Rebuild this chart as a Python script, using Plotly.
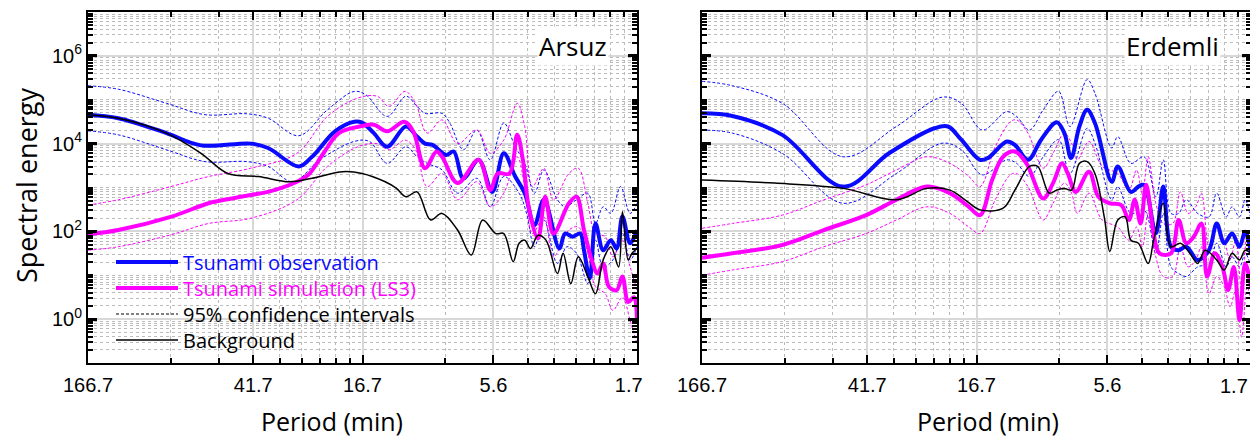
import plotly.graph_objects as go

# ---------------- data (frequency in mHz, spectral energy as log10) ----------------
period_ticks_f = [0.1, 0.4, 1, 3, 10]
period_ticks_txt = ["166.7", "41.7", "16.7", "5.6", "1.7"]
energy_ticks = [1e0, 1e2, 1e4, 1e6]
energy_ticks_txt = ["10<sup>0</sup>", "10<sup>2</sup>", "10<sup>4</sup>", "10<sup>6</sup>"]
energy_odd_ticks = [1e1, 1e3, 1e5]

# --- Arsuz ---
arsuz_obs_f = [0.1, 0.129, 0.193, 0.258, 0.392, 0.453, 0.586, 0.655, 0.794, 0.933,
               0.996, 1.10, 1.23, 1.44, 1.58, 1.69, 1.80, 2.02, 2.15, 2.33,
               2.65, 2.97, 3.27, 3.60, 3.90, 4.23, 4.58, 5.21, 5.47, 5.83,
               6.21, 6.41, 6.73, 7.06, 7.53, 8.03, 8.43, 8.85, 9.44, 10.0]
arsuz_obs_log = [4.66, 4.58, 4.24, 3.96, 4.0, 3.9, 3.48, 3.7, 4.28, 4.5,
                 4.48, 4.24, 3.93, 4.39, 4.16, 4.0, 3.97, 3.74, 3.82, 3.21,
                 3.63, 2.9, 3.78, 3.25, 2.87, 2.14, 2.72, 1.61, 1.95, 1.88,
                 1.95, 1.57, 0.93, 2.18, 1.57, 1.8, 1.61, 2.34, 1.73, 2.03]

arsuz_sim_f = [0.1, 0.129, 0.2, 0.275, 0.334, 0.392, 0.453, 0.577, 0.635, 0.721,
               0.820, 0.996, 1.10, 1.23, 1.42, 1.53, 1.69, 1.86, 1.95, 2.22,
               2.65, 2.92, 3.11, 3.43, 3.66, 3.84, 4.03, 4.36, 4.63, 4.96,
               5.65, 6.02, 6.41, 6.84, 7.18, 7.53, 7.90, 8.43, 8.85, 9.29,
               9.75, 10.0]
arsuz_sim_log = [1.93, 2.03, 2.33, 2.64, 2.75, 2.83, 2.9, 3.13, 3.29, 3.78,
                 4.24, 4.4, 4.43, 4.28, 4.5, 4.28, 3.44, 3.82, 3.7, 3.1,
                 3.63, 2.94, 3.32, 3.32, 4.2, 3.63, 2.56, 1.84, 2.79, 1.95,
                 2.64, 2.79, 2.03, 1.35, 1.04, 1.27, 0.74, 0.66, 0.97, 0.39,
                 0.5, -0.1]

arsuz_bg_f = [0.1, 0.129, 0.193, 0.258, 0.323, 0.418, 0.541, 0.655, 0.847, 0.996,
              1.21, 1.33, 1.44, 1.58, 1.77, 1.95, 2.22, 2.49, 2.74, 3.06,
              3.27, 3.54, 3.72, 3.90, 4.09, 4.36, 4.66, 5.13, 5.38, 5.74,
              6.11, 6.62, 7.06, 7.53, 8.03, 8.57, 8.85, 9.29, 9.59, 10.0]
arsuz_bg_log = [4.66, 4.58, 4.24, 3.78, 3.32, 3.25, 3.13, 3.21, 3.36, 3.32,
                3.13, 2.98, 2.79, 2.9, 2.26, 2.41, 2.03, 1.46, 2.26, 1.95,
                1.95, 1.31, 1.73, 1.8, 1.61, 1.91, 1.8, 1.04, 1.5, 0.81,
                1.42, 0.97, 0.58, 1.35, 1.65, 1.19, 2.45, 1.35, 1.5, 1.61]

arsuz_obs_hi_f = [0.1, 0.129, 0.193, 0.267, 0.379, 0.453, 0.586, 0.745, 0.933, 1.03,
                  1.23, 1.44, 1.58, 1.69, 1.95, 2.08, 2.33, 2.61, 2.92, 3.27,
                  3.60, 3.90, 4.23, 4.58, 5.13, 5.47, 6.02, 6.62, 7.06, 7.53,
                  8.03, 8.71, 9.44, 10.0]
arsuz_obs_hi_log = [5.32, 5.24, 4.92, 4.66, 4.68, 4.58, 4.18, 4.77, 5.19, 5.11,
                    4.62, 5.08, 4.85, 4.69, 4.69, 4.47, 3.86, 4.31, 3.63, 4.47,
                    3.93, 3.55, 2.87, 3.4, 2.72, 2.56, 2.72, 2.87, 2.18, 2.56,
                    2.41, 3.02, 2.41, 2.64]
arsuz_obs_lo_f = [0.1, 0.129, 0.193, 0.267, 0.379, 0.453, 0.558, 0.698, 0.933, 1.06,
                  1.23, 1.44, 1.58, 1.72, 1.95, 2.22, 2.61, 2.92, 3.27, 3.72,
                  3.96, 4.23, 4.58, 5.13, 5.56, 6.02, 6.62, 7.06, 7.53, 8.17,
                  8.85, 9.44, 10.0]
arsuz_obs_lo_log = [4.29, 4.2, 3.86, 3.59, 3.59, 3.48, 3.13, 3.63, 4.05, 4.05,
                    3.55, 3.93, 3.7, 3.55, 3.4, 2.87, 3.21, 2.56, 3.25, 2.87,
                    2.41, 1.65, 2.26, 1.27, 1.65, 1.5, 0.81, 1.8, 1.19, 1.35,
                    1.95, 1.35, 1.65]

arsuz_sim_ci_f = [0.1, 0.129, 0.2, 0.275, 0.392, 0.577, 0.745, 0.963, 1.13, 1.25,
                  1.43, 1.56, 1.72, 1.95, 2.22, 2.61, 2.92, 3.27, 3.66, 3.90,
                  4.16, 4.58, 4.96, 5.65, 6.11, 6.62, 7.06, 7.66, 8.17, 8.85,
                  9.44, 10.0]
arsuz_sim_hi_log = [2.6, 2.72, 3.02, 3.25, 3.44, 3.78, 4.62, 5.04, 5.08, 4.85,
                    5.19, 4.92, 4.24, 4.54, 4.0, 4.31, 3.78, 4.08, 4.92, 4.39,
                    3.02, 3.44, 2.72, 3.32, 3.44, 2.64, 1.95, 1.88, 1.42, 1.8,
                    1.19, 0.66]
arsuz_sim_lo_log = [1.57, 1.65, 1.92, 2.18, 2.3, 2.72, 3.48, 3.93, 4.0, 3.86,
                    4.08, 3.86, 3.02, 3.32, 2.72, 3.13, 2.56, 2.87, 3.7, 3.02,
                    1.95, 2.33, 1.42, 2.03, 2.1, 1.5, 0.74, 0.58, 0.2, 0.5,
                    -0.03, -0.56]

# --- Erdemli ---
erdemli_obs_f = [0.1, 0.129, 0.196, 0.327, 0.480, 0.703, 0.787, 0.880, 1.03, 1.10,
                 1.29, 1.38, 1.54, 1.72, 1.96, 2.09, 2.21, 2.37, 2.53, 2.70,
                 3.11, 3.27, 3.65, 3.89, 4.08, 4.50, 4.79, 5.11, 5.45, 5.81,
                 6.39, 7.03, 7.50, 7.99, 8.53, 9.08, 9.52, 10.0]
erdemli_obs_log = [4.69, 4.63, 4.2, 3.02, 3.78, 4.35, 4.39, 4.09, 3.63, 3.67,
                   4.05, 3.97, 3.63, 4.09, 4.49, 4.24, 3.67, 4.39, 4.77, 4.47,
                   3.13, 3.48, 2.9, 3.02, 3.06, 1.95, 3.02, 1.65, 1.57, 1.65,
                   1.35, 1.57, 2.18, 1.73, 1.95, 1.65, 1.99, 1.5]

erdemli_sim_f = [0.1, 0.129, 0.196, 0.278, 0.396, 0.511, 0.659, 0.800, 0.938, 1.03,
                 1.14, 1.25, 1.38, 1.52, 1.75, 1.90, 2.05, 2.15, 2.30, 2.57,
                 2.78, 3.06, 3.37, 3.59, 3.77, 3.96, 4.15, 4.42, 4.64, 5.11,
                 5.45, 5.81, 6.19, 6.60, 6.92, 7.38, 7.87, 8.25, 8.66, 9.08,
                 9.52, 10.0]
erdemli_sim_log = [1.4, 1.5, 1.69, 2.03, 2.37, 2.72, 3.02, 2.87, 2.56, 2.37,
                   3.17, 3.7, 3.82, 3.55, 2.75, 3.1, 3.55, 3.32, 2.9, 3.36,
                   2.79, 2.64, 2.6, 2.26, 2.72, 2.18, 3.06, 1.95, 1.5, 1.5,
                   2.26, 1.73, 1.88, 2.18, 0.97, 1.5, 1.19, 0.66, 1.19, -0.02,
                   1.27, 0.74]

erdemli_bg_f = [0.1, 0.184, 0.327, 0.511, 0.659, 0.800, 0.908, 1.03, 1.25, 1.38,
                1.56, 1.67, 1.84, 1.96, 2.09, 2.22, 2.37, 2.53, 2.70, 2.92,
                3.06, 3.27, 3.48, 3.65, 3.89, 4.22, 4.42, 4.79, 5.11, 5.53,
                5.99, 6.39, 6.81, 7.50, 7.99, 8.53, 9.08, 9.52, 10.0]
erdemli_bg_log = [3.17, 3.1, 2.98, 2.72, 2.98, 2.94, 2.72, 2.49, 2.53, 2.94,
                  3.48, 3.48, 2.87, 2.94, 2.98, 2.94, 3.55, 3.59, 3.32, 2.33,
                  1.54, 2.26, 2.33, 1.8, 1.73, 1.27, 1.8, 2.64, 1.65, 1.73,
                  1.5, 1.27, 1.57, 1.35, 1.12, 1.5, 1.35, 1.57, 1.5]

erdemli_obs_ci_f = [0.1, 0.129, 0.196, 0.327, 0.511, 0.750, 0.880, 1.05, 1.29, 1.40,
                    1.56, 1.75, 1.99, 2.19, 2.53, 2.70, 3.11, 3.27, 3.65, 4.08,
                    4.50, 4.79, 5.11, 5.45, 5.81, 6.39, 7.03, 7.50, 8.12, 8.53,
                    9.08, 9.52, 10.0]
erdemli_obs_hi_log = [5.42, 5.32, 4.92, 3.7, 4.39, 5.06, 4.92, 4.31, 4.73, 4.62,
                      4.31, 4.77, 5.19, 4.39, 5.46, 5.15, 3.9, 4.16, 3.55, 3.7,
                      2.79, 3.63, 2.41, 2.41, 2.72, 2.41, 2.33, 2.87, 2.33, 2.56,
                      2.33, 2.72, 2.26]
erdemli_obs_lo_log = [4.31, 4.24, 3.78, 2.64, 3.32, 4.01, 3.86, 3.29, 3.63, 3.55,
                      3.25, 3.7, 4.09, 3.32, 4.35, 4.01, 2.72, 3.02, 2.41, 2.49,
                      1.5, 2.41, 1.19, 1.04, 0.97, 1.19, 1.27, 1.73, 1.19, 1.42,
                      1.19, 1.5, 1.19]

erdemli_sim_ci_f = [0.1, 0.129, 0.196, 0.278, 0.396, 0.511, 0.659, 0.800, 0.938, 1.03,
                    1.17, 1.33, 1.40, 1.54, 1.75, 1.90, 2.09, 2.22, 2.33, 2.57,
                    2.87, 3.27, 3.59, 3.83, 4.02, 4.22, 4.50, 4.79, 5.19, 5.53,
                    5.90, 6.29, 6.60, 7.03, 7.50, 7.99, 8.39, 8.80, 9.24, 9.68,
                    10.0]
erdemli_sim_hi_log = [2.07, 2.18, 2.37, 2.72, 3.06, 3.4, 3.7, 3.55, 3.25, 3.02,
                      3.93, 4.5, 4.54, 4.24, 3.44, 3.78, 4.24, 4.01, 3.63, 4.05,
                      3.48, 3.32, 2.94, 3.4, 2.87, 3.7, 2.64, 2.18, 2.18, 2.9,
                      2.41, 2.56, 2.87, 1.65, 2.1, 1.8, 1.35, 1.8, 0.66, 1.95,
                      1.42]
erdemli_sim_lo_log = [1.0, 1.12, 1.31, 1.65, 1.95, 2.26, 2.56, 2.41, 2.1, 1.95,
                      2.72, 3.29, 3.32, 3.02, 2.26, 2.64, 3.1, 2.87, 2.41, 2.87,
                      2.26, 2.1, 1.8, 2.1, 1.65, 2.41, 1.42, 0.97, 0.97, 1.65,
                      1.19, 1.35, 1.65, 0.58, 0.97, 0.74, 0.28, 0.66, -0.41, 0.74,
                      0.36]

stations = ["Arsuz", "Erdemli"]
legend_names = ["Tsunami observation", "Tsunami simulation (LS3)",
                "95% confidence intervals", "Background"]

# ---------------- styling ----------------
BLUE = "#0a0aff"
MAG = "#ff00ff"
# the page body adds an 8 px offset, so the figure is 8 px smaller on each axis
OFF = 8
FW, FH = 1258 - OFF, 439 - OFF
TICK_FONT = dict(family="Liberation Sans, Arial, sans-serif", size=20, color="black")
TEXT_FONT = "Open Sans, Noto Sans, sans-serif"
GRID_MAJOR = "#d8d8d8"
GRID_MINOR = "#bcbcbc"
NBSP = "\u00a0"
TICKLABEL_Y = 386


def SX(px):
    return (px - OFF) / FW


def SY(py):
    return 1 - (py - OFF) / FH


def E(arr):
    return [10 ** v for v in arr]


fig = go.Figure()

panels = [
    dict(xa="x", ya="y",
         obs=(arsuz_obs_f, arsuz_obs_log), sim=(arsuz_sim_f, arsuz_sim_log),
         bg=(arsuz_bg_f, arsuz_bg_log),
         ohi=(arsuz_obs_hi_f, arsuz_obs_hi_log), olo=(arsuz_obs_lo_f, arsuz_obs_lo_log),
         shi=(arsuz_sim_ci_f, arsuz_sim_hi_log), slo=(arsuz_sim_ci_f, arsuz_sim_lo_log)),
    dict(xa="x2", ya="y2",
         obs=(erdemli_obs_f, erdemli_obs_log), sim=(erdemli_sim_f, erdemli_sim_log),
         bg=(erdemli_bg_f, erdemli_bg_log),
         ohi=(erdemli_obs_ci_f, erdemli_obs_hi_log), olo=(erdemli_obs_ci_f, erdemli_obs_lo_log),
         shi=(erdemli_sim_ci_f, erdemli_sim_hi_log), slo=(erdemli_sim_ci_f, erdemli_sim_lo_log)),
]

for p in panels:
    common = dict(xaxis=p["xa"], yaxis=p["ya"], mode="lines", showlegend=False,
                  line_shape="spline", hoverinfo="skip")
    for key, col in (("ohi", BLUE), ("olo", BLUE), ("shi", MAG), ("slo", MAG)):
        fx, fy = p[key]
        fig.add_trace(go.Scatter(x=fx, y=E(fy), line=dict(color=col, width=1, dash="3px,2px"),
                                 **common))
    fx, fy = p["obs"]
    fig.add_trace(go.Scatter(x=fx, y=E(fy), line=dict(color=BLUE, width=4), **common))
    fx, fy = p["sim"]
    fig.add_trace(go.Scatter(x=fx, y=E(fy), line=dict(color=MAG, width=4), **common))
    fx, fy = p["bg"]
    fig.add_trace(go.Scatter(x=fx, y=E(fy), line=dict(color="black", width=1.5), **common))

# legend entries (legend-only samples), one legend per row for exact spacing
leg_styles = [
    (BLUE, dict(color=BLUE, width=4)),
    (MAG, dict(color=MAG, width=4)),
    ("black", dict(color="black", width=1.2, dash="3px,2px")),
    ("black", dict(color="black", width=1.5)),
]
leg_ids = ["legend", "legend2", "legend3", "legend4"]
leg_rows_px = [262, 288, 314, 340]
for name, (tcol, ln), lid in zip(legend_names, leg_styles, leg_ids):
    fig.add_trace(go.Scatter(x=[None], y=[None], mode="lines", line=ln,
                             name=f'<span style="color:{tcol}">{name}</span>',
                             xaxis="x", yaxis="y", showlegend=True, legend=lid))

x_domains = [[SX(88), SX(637)], [SX(702), SX(1251)]]
y_domain = [SY(363), SY(12)]

minor_cfg = dict(dtick="D1", ticks="inside", ticklen=5, tickwidth=1.5,
                 tickcolor="black", showgrid=True, gridcolor=GRID_MINOR,
                 griddash="dot", gridwidth=1)


def xaxis_cfg(dom, anchor, n_ticks, last_pad):
    vals = period_ticks_f[:n_ticks]
    txt = period_ticks_txt[:n_ticks]
    if last_pad:
        # rightmost label sits slightly inside the frame, as in the original figure
        txt = txt[:-1] + [txt[-1] + NBSP * last_pad]
    return dict(domain=dom, anchor=anchor, type="log", range=[-1, 1], automargin=False,
                tickmode="array", tickvals=vals, ticktext=txt,
                ticklabeloverflow="allow",
                ticks="inside", ticklen=8, tickwidth=2, tickcolor="black",
                showline=True, linewidth=2, linecolor="black", mirror="ticks",
                showgrid=True, gridcolor=GRID_MAJOR, gridwidth=2, zeroline=False,
                tickfont=TICK_FONT, ticklabelstandoff=3, minor=minor_cfg)


def yaxis_cfg(anchor, labels):
    return dict(domain=y_domain, anchor=anchor, type="log", range=[-1, 7], automargin=False,
                tickmode="array", tickvals=energy_ticks, ticktext=energy_ticks_txt,
                showticklabels=labels,
                ticks="inside", ticklen=9, tickwidth=3, tickcolor="black",
                showline=True, linewidth=2, linecolor="black", mirror="ticks",
                showgrid=True, gridcolor=GRID_MAJOR, gridwidth=2, zeroline=False,
                tickfont=TICK_FONT, minor=minor_cfg)


def yaxis_odd_cfg(anchor, over):
    return dict(domain=y_domain, anchor=anchor, overlaying=over, type="log", range=[-1, 7],
                automargin=False, tickmode="array", tickvals=energy_odd_ticks,
                showticklabels=False, ticks="inside", ticklen=9, tickwidth=3,
                tickcolor="black", showline=False, mirror="ticks",
                showgrid=True, gridcolor=GRID_MAJOR, gridwidth=2, zeroline=False)


annotations = [
    dict(text="Spectral energy", xref="paper", yref="paper", x=SX(26), y=SY(186),
         textangle=-90, showarrow=False, xanchor="center", yanchor="middle",
         font=dict(family=TEXT_FONT, size=27, color="black")),
    dict(text="Period (min)", xref="paper", yref="paper", x=SX(332), y=SY(421),
         showarrow=False, xanchor="center", yanchor="middle",
         font=dict(family=TEXT_FONT, size=25, color="black")),
    dict(text="Period (min)", xref="paper", yref="paper", x=SX(988), y=SY(421),
         showarrow=False, xanchor="center", yanchor="middle",
         font=dict(family=TEXT_FONT, size=25, color="black")),
    dict(text=stations[0], xref="paper", yref="paper", x=SX(609), y=SY(46),
         showarrow=False, xanchor="right", yanchor="middle", bgcolor="white",
         font=dict(family=TEXT_FONT, size=26, color="black")),
    dict(text=stations[1], xref="paper", yref="paper", x=SX(1221), y=SY(46),
         showarrow=False, xanchor="right", yanchor="middle", bgcolor="white",
         font=dict(family=TEXT_FONT, size=26, color="black")),
    # last period label of the right panel, pulled inside the page edge
    dict(text=period_ticks_txt[-1], xref="paper", yref="paper", x=SX(1251), y=SY(TICKLABEL_Y),
         showarrow=False, xanchor="right", yanchor="middle", xshift=-1,
         font=TICK_FONT),
]

legend_layout = {}
for lid, row in zip(leg_ids, leg_rows_px):
    legend_layout[lid] = dict(x=SX(111), y=SY(row), xanchor="left", yanchor="middle",
                              bgcolor="rgba(0,0,0,0)", borderwidth=0, itemwidth=62,
                              font=dict(family=TEXT_FONT, size=20, color="black"))

fig.update_layout(
    width=FW, height=FH, margin=dict(l=0, r=0, t=0, b=0, autoexpand=False),
    paper_bgcolor="white", plot_bgcolor="white",
    xaxis=xaxis_cfg(x_domains[0], "y", 5, 3),
    yaxis=yaxis_cfg("x", True),
    xaxis2=xaxis_cfg(x_domains[1], "y2", 4, 0),
    yaxis2=yaxis_cfg("x2", False),
    yaxis3=yaxis_odd_cfg("x", "y"),
    yaxis4=yaxis_odd_cfg("x2", "y2"),
    annotations=annotations,
    showlegend=True,
    **legend_layout,
)

fig.write_html("out.html")
